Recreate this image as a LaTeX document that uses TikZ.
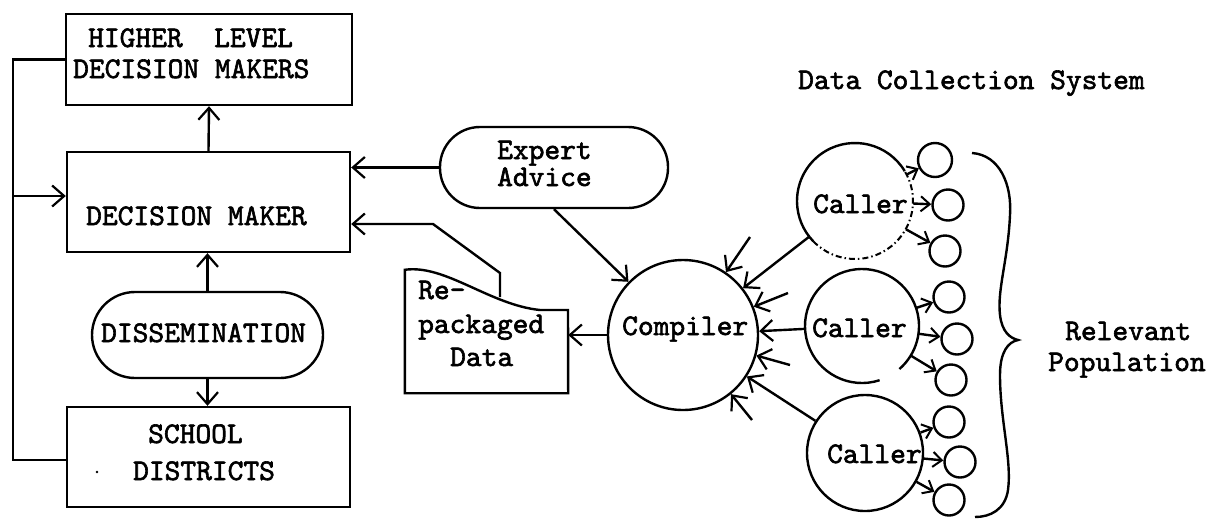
\documentclass[tikz,border=0pt]{standalone}
\usepackage{fontspec}
\usetikzlibrary{arrows.meta,calc}
\newfontfamily\tw{lmmono10-regular.otf}[FakeBold=2]

\tikzset{
  lw/.style={line width=2.4pt},
  box/.style={draw, lw, rectangle, inner sep=0pt},
  pill/.style={draw, lw, rectangle, inner sep=0pt},
  txt/.style={font=\tw\fontsize{30}{32}\selectfont, inner sep=0pt, anchor=base west,
    text height=19pt, text depth=5pt},
  flow/.style={lw, -{Straight Barb[length=12pt,width=21pt,line width=2.2pt]}},
  tick/.style={lw, -{Straight Barb[length=9pt,width=15pt,line width=2pt]}},
  pop/.style={draw, lw, circle, minimum size=31pt, inner sep=0pt},
  ring/.style={circle, inner sep=0pt},
}

\begin{document}
\begin{tikzpicture}[x=1pt,y=-1pt]
\useasboundingbox (0,0) rectangle (1215,520);

% ---- decision side ----
\node[box, minimum width=286pt, minimum height=91pt] (hldm) at (209,59.5) {};
\node[box, minimum width=283pt, minimum height=100pt] (dm) at (208.5,202) {};
\node[pill, rounded corners=43pt, minimum width=231pt, minimum height=86pt] (diss) at (207.5,335) {};
\node[box, minimum width=283pt, minimum height=100pt] (sd) at (208.5,457) {};

\node[txt] (t-hl) at (88,47) {HIGHER~~LEVEL};
\node[txt] (t-dms) at (73,78) {DECISION MAKERS};
\node[txt] (t-dm) at (86,225) {DECISION MAKER};
\node[txt] (t-diss) at (101,342) {DISSEMINATION};
\node[txt] (t-sch) at (148,443) {SCHOOL};
\node[txt] (t-dis) at (133,480) {DISTRICTS};
\fill (97,472) circle (1.3pt) node (speck) {};

\draw[flow] (dm.north) -- (hldm.south);
\draw[flow] (diss.north) -- (diss.north |- dm.south);
\draw[flow] (diss.south) -- (diss.south |- sd.north);

% feedback loop on the left
\coordinate (loopin) at (13,196);
\draw[lw] (hldm.west) -| (13,460) -- (13,460 -| sd.west);
\draw[flow] (loopin) -- (loopin -| dm.west);

% ---- expert advice and repackaged data ----
\node[pill, rounded corners=40pt, minimum width=228pt, minimum height=81pt] (exp) at (554,167.5) {};
\node[txt] (t-exp) at (497,159) {Expert};
\node[txt] (t-adv) at (497,186) {Advice};
\draw[flow] (exp.west) -- (exp.west -| dm.east);

\node[rectangle, inner sep=0pt, minimum width=163pt, minimum height=123pt] (doc) at (486.5,331.5) {};
\draw[lw] (doc.north west) -- (doc.south west) -- (doc.south east) -- (568,310) -- (540,310)
  .. controls (490,305) and (445,264) .. (doc.north west) -- cycle;
\coordinate (wave) at (500,297);
\node[txt] (t-re) at (418,299) {Re-};
\node[txt] (t-pk) at (418,333) {packaged};
\node[txt] (t-da) at (450,366) {Data};
\draw[flow] (wave) -- (500,273) -- (433,224) -- (433,224 -| dm.east);

% ---- compiler ----
\node[draw, lw, circle, minimum size=150pt, inner sep=0pt] (comp) at (683,335) {};
\node[txt] (t-comp) at (622,335) {Compiler};
\draw[flow] (exp.south) -- (comp);
\draw[flow] (comp.west) -- (comp.west -| doc.east);

% unnamed inputs reaching the compiler
\coordinate (in1) at (750,237);
\coordinate (in2) at (788,293);
\coordinate (in3) at (790,365);
\coordinate (in4) at (752,420);
\foreach \p in {in1,in2,in3,in4} \draw[flow] (\p) -- (comp);

% ---- callers ----
\node[ring, minimum size=116pt] (c1) at (855,201) {};
\node[ring, minimum size=114pt] (c2) at (862,326) {};
\node[draw, lw, circle, minimum size=116pt, inner sep=0pt] (c3) at (865,453) {};
\draw[lw] ($(855,201)+(-31:58)$) arc[start angle=-31, end angle=-224, radius=58];
\draw[line width=2pt, dash pattern=on 6pt off 3pt on 1.5pt off 3pt]
  ($(855,201)+(136:58)$) arc[start angle=136, end angle=-31, radius=58];
\draw[lw] ($(862,326)+(72:57)$) arc[start angle=72, end angle=409, radius=57];
\node[txt] (t-c1) at (813,213) {Caller};
\node[txt] (t-c2) at (812,337) {Caller};
\node[txt] (t-c3) at (827,463) {Caller};

\draw[flow] (c1) -- (comp);
\draw[flow] (c2) -- (comp);
\draw[flow] (c3) -- (comp);

% ---- relevant population ----
\node[pop, minimum size=34pt] (p1) at (935,160) {};
\node[pop] (p2) at (948,205) {};
\node[pop] (p3) at (945,251) {};
\node[pop] (p4) at (949,297) {};
\node[pop] (p5) at (957,339) {};
\node[pop] (p6) at (951,380) {};
\node[pop] (p7) at (949,422) {};
\node[pop] (p8) at (960,462) {};
\node[pop] (p9) at (949,500) {};
\foreach \c/\p in {c1/p1,c1/p2,c1/p3,c2/p4,c2/p5,c2/p6,c3/p7,c3/p8,c3/p9}
  \draw[tick] (\c) -- (\p);

\draw[lw] (972,153) .. controls (1000,155) and (1012,185) .. (1010,215)
  .. controls (1008,260) and (997,290) .. (1000,315)
  .. controls (1002,332) and (1010,338) .. (1018,340)
  .. controls (1008,342) and (1000,352) .. (1000,375)
  .. controls (1000,420) and (1012,460) .. (1008,490)
  .. controls (1005,510) and (990,517) .. (975,517);

\node[txt] (t-rel) at (1065,340) {Relevant};
\node[txt] (t-pop) at (1048,371) {Population};
\node[txt] (t-dcs) at (798,89) {Data Collection System};
\end{tikzpicture}
\end{document}
